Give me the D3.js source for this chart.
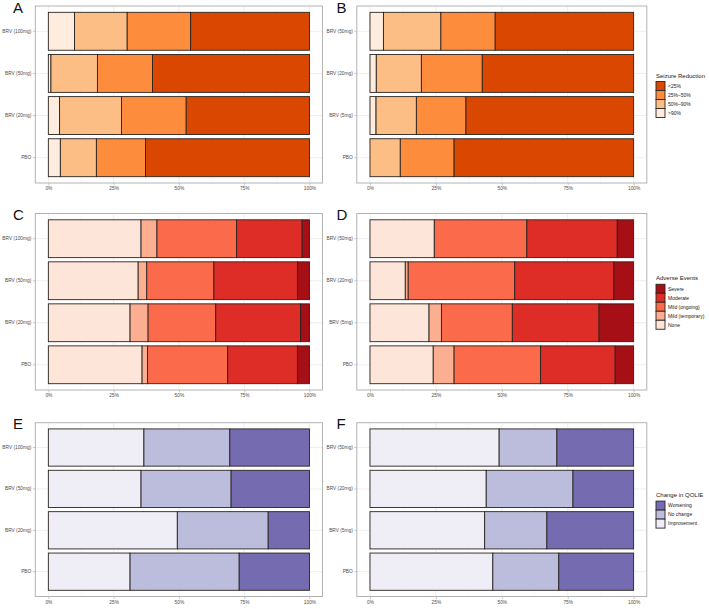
<!DOCTYPE html>
<meta charset="utf-8">
<script src="https://d3js.org/d3.v7.min.js"></script>
<style>
  body { margin: 0; background: #fff; }
  text { font-family: "Liberation Sans", Arial, sans-serif; }
</style>
<div id="vis"></div>
<script>

// categories, bottom to top
var catsLeft = ["PBO", "BRV (20mg)", "BRV (50mg)", "BRV (100mg)"]
var catsRight = ["PBO", "BRV (5mg)", "BRV (20mg)", "BRV (50mg)"]

// seizure reduction (% of patients), stacked left to right
var seizureKeys = [">90%", "50%–90%", "25%–50%", "<25%"]
var seizureColors = ["#feedde", "#fdbe85", "#fd8d3c", "#d94701"]
var seizureA = [[4.6, 13.8, 18.8, 62.8], [4.3, 23.7, 24.8, 47.2], [1.0, 17.8, 21.1, 60.1], [10.0, 20.2, 24.3, 45.5]]
var seizureB = [[0, 11.5, 20.4, 68.1], [2.3, 15.3, 18.8, 63.6], [2.4, 17.1, 23.1, 57.4], [5.1, 21.8, 20.6, 52.5]]

// adverse events
var aeKeys = ["None", "Mild (temporary)", "Mild (ongoing)", "Moderate", "Severe"]
var aeColors = ["#fee5d9", "#fcae91", "#fb6a4a", "#de2d26", "#a50f15"]
var aeC = [[35.9, 2.1, 30.7, 26.7, 4.6], [31.3, 6.9, 25.9, 32.5, 3.4], [34.4, 3.3, 25.7, 32.0, 4.6], [35.5, 6.1, 30.5, 25.1, 2.8]]
var aeD = [[24.0, 7.9, 32.8, 28.3, 7.0], [22.4, 4.7, 26.9, 32.9, 13.1], [13.4, 1.1, 40.4, 37.6, 7.5], [24.4, 0, 35.1, 34.3, 6.2]]

// change in QOLIE
var qolieKeys = ["Improvement", "No change", "Worsening"]
var qolieColors = ["#efedf5", "#bcbddc", "#756bb1"]
var qolieE = [[31.3, 41.8, 26.9], [49.4, 34.8, 15.8], [35.5, 34.5, 30.0], [36.6, 32.9, 30.5]]
var qolieF = [[46.6, 25.0, 28.4], [43.5, 23.6, 32.9], [44.1, 32.9, 23.0], [49.0, 21.9, 29.1]]

var pctTicks = [0, 25, 50, 75, 100]
var pctMinor = [12.5, 37.5, 62.5, 87.5]

var svg = d3.select("#vis")
  .append("svg")
    .attr("width", 709)
    .attr("height", 609)

var cols = [[35.3, 322.5], [356.8, 646.8]]
var rows = [[6, 183], [213.5, 390], [422.7, 596.5]]

function panel(letter, col, row, cats, keys, colors, values, legendTitle) {
  var x0 = cols[col][0], x1 = cols[col][1]
  var y0 = rows[row][0], y1 = rows[row][1]

  var x = d3.scaleLinear().domain([-5, 105]).range([x0, x1])
  var y = d3.scaleBand()
    .domain(cats.slice().reverse())
    .range([y0, y1])
    .paddingInner(0.1)
    .paddingOuter(0.15)
  var color = d3.scaleOrdinal().domain(keys).range(colors)

  var g = svg.append("g")

  // grid
  g.selectAll(".minor").data(pctMinor).enter().append("line")
    .attr("x1", d => x(d)).attr("x2", d => x(d))
    .attr("y1", y0).attr("y2", y1)
    .attr("stroke", "#f2f2f2").attr("stroke-width", 0.5)
  g.selectAll(".major").data(pctTicks).enter().append("line")
    .attr("x1", d => x(d)).attr("x2", d => x(d))
    .attr("y1", y0).attr("y2", y1)
    .attr("stroke", "#e6e6e6").attr("stroke-width", 0.7)
  g.selectAll(".hmajor").data(cats).enter().append("line")
    .attr("x1", x0).attr("x2", x1)
    .attr("y1", d => y(d) + y.bandwidth() / 2).attr("y2", d => y(d) + y.bandwidth() / 2)
    .attr("stroke", "#e6e6e6").attr("stroke-width", 0.7)

  // bars
  var table = cats.map(function(c, i) {
    var o = {cat: c}
    keys.forEach(function(k, j) { o[k] = values[i][j] })
    return o
  })
  var series = d3.stack().keys(keys)(table)

  g.selectAll(".layer").data(series).enter().append("g")
    .attr("fill", d => color(d.key))
    .selectAll("rect").data(d => d).enter().append("rect")
      .attr("x", d => x(d[0]))
      .attr("width", d => x(d[1]) - x(d[0]))
      .attr("y", d => y(d.data.cat))
      .attr("height", y.bandwidth())
      .attr("stroke", "#2a2420")
      .attr("stroke-width", 0.9)

  // border
  g.append("rect")
    .attr("x", x0).attr("y", y0)
    .attr("width", x1 - x0).attr("height", y1 - y0)
    .attr("fill", "none").attr("stroke", "#b3b3b3").attr("stroke-width", 1)

  // axes
  var xa = g.append("g").attr("transform", "translate(0," + y1 + ")")
    .call(d3.axisBottom(x).tickValues(pctTicks).tickFormat(d => d + "%").tickSize(2.5).tickPadding(1.5))
  var ya = g.append("g").attr("transform", "translate(" + x0 + ",0)")
    .call(d3.axisLeft(y).tickSize(2.5).tickPadding(1.5))
  ;[xa, ya].forEach(function(a) {
    a.select(".domain").remove()
    a.selectAll(".tick line").attr("stroke", "#b3b3b3").attr("stroke-width", 0.7)
    a.selectAll(".tick text").attr("fill", "#4d4d4d").style("font-size", "4.8px")
      .style("font-family", '"Liberation Sans", Arial, sans-serif')
  })

  // panel letter
  g.append("text")
    .attr("x", col === 0 ? 13 : 336.5)
    .attr("y", y0 + 6.5)
    .style("font-size", "15px")
    .attr("fill", "#111")
    .text(letter)

  // legend
  if (legendTitle) {
    var keySize = 9
    var n = keys.length
    var total = 10 + n * keySize
    var top = (y0 + y1) / 2 - total / 2
    var lg = svg.append("g").attr("transform", "translate(656," + top + ")")
    lg.append("text").attr("x", 0).attr("y", 6)
      .style("font-size", "6px").attr("fill", "#1a1a1a").text(legendTitle)
    var items = keys.slice().reverse()
    var it = lg.selectAll(".item").data(items).enter().append("g")
      .attr("transform", (d, i) => "translate(0," + (10 + i * keySize) + ")")
    it.append("rect")
      .attr("width", keySize).attr("height", keySize)
      .attr("fill", d => color(d))
      .attr("stroke", "#2a2420").attr("stroke-width", 0.9)
    it.append("text")
      .attr("x", 12).attr("y", keySize / 2 + 1.8)
      .style("font-size", "5px").attr("fill", "#1a1a1a")
      .text(d => d)
  }
}

panel("A", 0, 0, catsLeft, seizureKeys, seizureColors, seizureA)
panel("B", 1, 0, catsRight, seizureKeys, seizureColors, seizureB, "Seizure Reduction")
panel("C", 0, 1, catsLeft, aeKeys, aeColors, aeC)
panel("D", 1, 1, catsRight, aeKeys, aeColors, aeD, "Adverse Events")
panel("E", 0, 2, catsLeft, qolieKeys, qolieColors, qolieE)
panel("F", 1, 2, catsRight, qolieKeys, qolieColors, qolieF, "Change in QOLIE")

</script>
